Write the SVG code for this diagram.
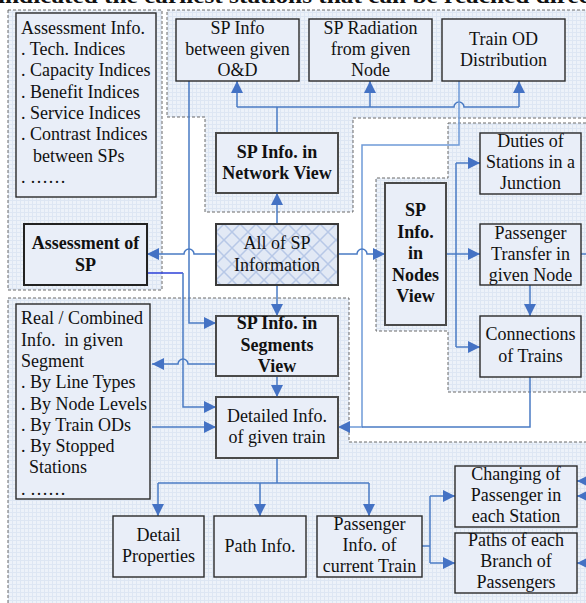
<svg xmlns="http://www.w3.org/2000/svg" width="586" height="603" viewBox="0 0 586 603">
<style>
.region{fill:url(#grid);stroke:#6a6a6a;stroke-width:1;stroke-dasharray:3,2}
.box{fill:#e9eef8;stroke:#2a2a2a;stroke-width:1.4}
.bbox{fill:#e9eef8;stroke:#4a4a4a;stroke-width:2}
.t{font-family:"Liberation Serif","Times New Roman",serif;font-size:18px;fill:#111}
.c{text-anchor:middle}
.b{font-weight:bold}
.ln{fill:none;stroke:#4a7bc4;stroke-width:1.5}
.lt{fill:none;stroke:#6f9bd8;stroke-width:1.5}
.dk{fill:none;stroke:#2c40d8;stroke-width:1.5}
.a{marker-end:url(#arr)}
</style>
<defs>
<pattern id="grid" width="4" height="4" patternUnits="userSpaceOnUse">
<rect width="4" height="4" fill="#edf2f9"/>
<path d="M0 0.5H4M0.5 0V4" stroke="#dde6f3" stroke-width="1"/>
</pattern>
<pattern id="hatch" width="16" height="16" patternUnits="userSpaceOnUse">
<rect width="16" height="16" fill="#e2e9f5"/>
<path d="M0 0L16 16M16 0L0 16" stroke="#b7c8e7" stroke-width="1.5"/>
</pattern>
<marker id="arr" viewBox="0 0 12 12" refX="12" refY="6" markerWidth="12" markerHeight="12" markerUnits="userSpaceOnUse" orient="auto">
<path d="M0,0 L12,6 L0,12 z" fill="#4472c4"/>
</marker>
</defs>
<rect width="586" height="603" fill="#ffffff"/>
<text class="t b" x="-2" y="3" style="font-size:20px" textLength="592" lengthAdjust="spacingAndGlyphs">indicated the earliest stations that can be reached direc</text>

<g id="regions">
<rect class="region" x="8" y="10" width="154" height="280"/>
<path class="region" d="M167,10 H590 V118 H353 V212 H205 V117 H167 Z"/>
<path class="region" d="M448,123 H590 V392 H448 V331 H376 V178 H448 Z"/>
<path class="region" d="M8,298 H349 V442 H590 V606 H8 Z"/>
</g>

<g id="connectors">
<path class="ln a" d="M277,224 V193"/>
<path class="ln" d="M277,133 V107"/>
<path class="ln" d="M237,107 H454 A5,5 0 0 1 464,107 H519"/>
<path class="ln a" d="M237,107 V81"/>
<path class="ln a" d="M370,107 V81"/>
<path class="ln a" d="M519,107 V81"/>
<path class="lt a" d="M459,81 V145 H362 V427 H338"/>
<path class="ln" d="M530,377 V427 H362"/>
<path class="ln a" d="M216,254 H194 A5,5 0 0 0 184,254 H147"/>
<path class="ln a" d="M189,81 V323 H216"/>
<path class="dk" d="M147,273 H183"/>
<path class="ln a" d="M183,273 V407 H216"/>
<path class="ln a" d="M338,254 H357 A5,5 0 0 1 367,254 H385"/>
<path class="ln a" d="M277,285 V316"/>
<path class="ln a" d="M216,364 H188 A5,5 0 0 0 178,364 H152"/>
<path class="ln a" d="M277,376 V397"/>
<path class="ln a" d="M152,427 H216"/>
<path class="ln a" d="M446,254 H480"/>
<path class="ln" d="M456,163 V347"/>
<path class="ln a" d="M456,163 H480"/>
<path class="ln a" d="M456,347 H480"/>
<path class="ln a" d="M530,285 V316"/>
<path class="ln" d="M581,254 H590"/>
<path class="ln" d="M277,458 V483"/>
<path class="ln" d="M158,483 H369"/>
<path class="ln a" d="M158,483 V516"/>
<path class="ln a" d="M260,483 V516"/>
<path class="ln a" d="M369,483 V516"/>
<path class="ln" d="M422,546 H430"/>
<path class="ln" d="M430,496 V563"/>
<path class="ln a" d="M430,496 H455"/>
<path class="ln a" d="M430,563 H455"/>
<path class="ln a" d="M594,481 H577"/>
<path class="ln a" d="M594,496 H577"/>
<path class="ln a" d="M594,563 H577"/>
</g>

<g id="assessment-info">
<rect class="box" x="16" y="13" width="140" height="184"/>
<text class="t" x="21" y="34">Assessment Info.</text>
<text class="t" x="21" y="55">. Tech. Indices</text>
<text class="t" x="21" y="76">. Capacity Indices</text>
<text class="t" x="21" y="98">. Benefit Indices</text>
<text class="t" x="21" y="119">. Service Indices</text>
<text class="t" x="21" y="140">. Contrast Indices</text>
<text class="t" x="33" y="162">between SPs</text>
<text class="t" x="21" y="183">. ……</text>
</g>

<g id="sp-info-od">
<rect class="box" x="176" y="19" width="123" height="62"/>
<text class="t c" x="237.5" y="34">SP Info</text>
<text class="t c" x="237.5" y="55">between given</text>
<text class="t c" x="237.5" y="76">O&amp;D</text>
</g>

<g id="sp-radiation">
<rect class="box" x="309" y="19" width="123" height="62"/>
<text class="t c" x="370.5" y="34">SP Radiation</text>
<text class="t c" x="370.5" y="55">from given</text>
<text class="t c" x="370.5" y="76">Node</text>
</g>

<g id="train-od">
<rect class="box" x="442" y="19" width="123" height="62"/>
<text class="t c" x="503.5" y="45">Train OD</text>
<text class="t c" x="503.5" y="66">Distribution</text>
</g>

<g id="network-view">
<rect class="bbox" x="216" y="133" width="122" height="60"/>
<text class="t c b" x="277" y="158">SP Info. in</text>
<text class="t c b" x="277" y="179">Network View</text>
</g>

<g id="assessment-sp">
<rect class="bbox" x="24" y="224" width="123" height="61" style="stroke:#222"/>
<text class="t c b" x="85.5" y="249">Assessment of</text>
<text class="t c b" x="85.5" y="271">SP</text>
</g>

<g id="all-sp-info">
<rect x="216" y="224" width="122" height="61" fill="url(#hatch)" stroke="#3a3a3a" stroke-width="2"/>
<text class="t c" x="277" y="249">All of SP</text>
<text class="t c" x="277" y="271">Information</text>
</g>

<g id="nodes-view">
<rect class="bbox" x="385" y="183" width="61" height="142"/>
<text class="t c b" x="415.5" y="216">SP</text>
<text class="t c b" x="415.5" y="238">Info.</text>
<text class="t c b" x="415.5" y="259">in</text>
<text class="t c b" x="415.5" y="281">Nodes</text>
<text class="t c b" x="415.5" y="302">View</text>
</g>

<g id="duties">
<rect class="box" x="480" y="133" width="101" height="61"/>
<text class="t c" x="530.5" y="147">Duties of</text>
<text class="t c" x="530.5" y="168">Stations in a</text>
<text class="t c" x="530.5" y="189">Junction</text>
</g>

<g id="passenger-transfer">
<rect class="box" x="480" y="224" width="101" height="61"/>
<text class="t c" x="530.5" y="239">Passenger</text>
<text class="t c" x="530.5" y="260">Transfer in</text>
<text class="t c" x="530.5" y="281">given Node</text>
</g>

<g id="connections">
<rect class="box" x="480" y="316" width="101" height="61"/>
<text class="t c" x="530.5" y="340">Connections</text>
<text class="t c" x="530.5" y="362">of Trains</text>
</g>

<g id="segments-view">
<rect class="bbox" x="216" y="316" width="122" height="60"/>
<text class="t c b" x="277" y="329">SP Info. in</text>
<text class="t c b" x="277" y="351">Segments</text>
<text class="t c b" x="277" y="372">View</text>
</g>

<g id="real-combined">
<rect class="box" x="16" y="304" width="134" height="195"/>
<text class="t" x="21" y="324">Real / Combined</text>
<text class="t" x="21" y="346" xml:space="preserve">Info.  in given</text>
<text class="t" x="21" y="367">Segment</text>
<text class="t" x="21" y="388">. By Line Types</text>
<text class="t" x="21" y="410">. By Node Levels</text>
<text class="t" x="21" y="431">. By Train ODs</text>
<text class="t" x="21" y="452">. By Stopped</text>
<text class="t" x="29" y="473">Stations</text>
<text class="t" x="21" y="495">. ……</text>
</g>

<g id="detailed-info">
<rect class="bbox" x="216" y="397" width="122" height="61"/>
<text class="t c" x="277" y="422">Detailed Info.</text>
<text class="t c" x="277" y="443">of given train</text>
</g>

<g id="detail-properties">
<rect class="box" x="113" y="516" width="91" height="61"/>
<text class="t c" x="158.5" y="541">Detail</text>
<text class="t c" x="158.5" y="562">Properties</text>
</g>

<g id="path-info">
<rect class="box" x="214" y="516" width="92" height="61"/>
<text class="t c" x="260" y="552">Path Info.</text>
</g>

<g id="passenger-info">
<rect class="box" x="317" y="516" width="105" height="61"/>
<text class="t c" x="369.5" y="530">Passenger</text>
<text class="t c" x="369.5" y="551">Info. of</text>
<text class="t c" x="369.5" y="572">current Train</text>
</g>

<g id="changing">
<rect class="box" x="455" y="466" width="122" height="61"/>
<text class="t c" x="516" y="480">Changing of</text>
<text class="t c" x="516" y="501">Passenger in</text>
<text class="t c" x="516" y="522">each Station</text>
</g>

<g id="paths-branch">
<rect class="box" x="455" y="533" width="122" height="60"/>
<text class="t c" x="516" y="546">Paths of each</text>
<text class="t c" x="516" y="567">Branch of</text>
<text class="t c" x="516" y="588">Passengers</text>
</g>
</svg>
